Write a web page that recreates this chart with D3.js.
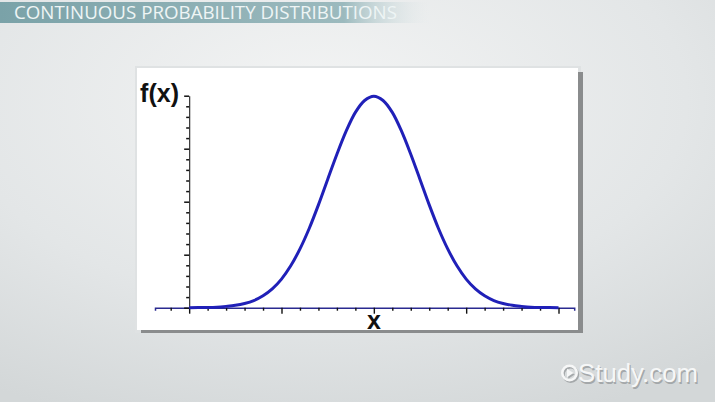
<!DOCTYPE html>
<html><head><meta charset="utf-8">
<script src="https://cdn.jsdelivr.net/npm/d3@7"></script>
<style>html,body{margin:0;padding:0;overflow:hidden;background:#e2e5e6}</style>
</head><body>
<svg id="c" width="715" height="402"></svg>
<script>
// Data
const xValues = [0,0.1,0.2,0.3,0.4,0.5,0.6,0.7,0.8,0.9,1.0,1.1,1.2,1.3,1.4,1.5,1.6,1.7,1.8,1.9,2.0,
  2.1,2.2,2.3,2.4,2.5,2.6,2.7,2.8,2.9,3.0,3.1,3.2,3.3,3.4,3.5,3.6,3.7,3.8,3.9,4.0];
const fValues = [0.000,0.001,0.001,0.002,0.005,0.009,0.016,0.027,0.045,0.071,0.108,0.158,0.222,0.299,0.388,0.484,0.579,0.666,0.737,0.782,0.798,
  0.782,0.737,0.666,0.579,0.484,0.388,0.299,0.222,0.158,0.108,0.071,0.045,0.027,0.016,0.009,0.005,0.002,0.001,0.001,0.000];
const xMajorTicks = [0,1,2,3,4];
const xMinorTicks = [-0.2,0.2,0.4,0.6,0.8,1.2,1.4,1.6,1.8,2.2,2.4,2.6,2.8,3.2,3.4,3.6,3.8];
const yMajorTicks = [0,0.2,0.4,0.6,0.8];
const yMinorTicks = [0.04,0.08,0.12,0.16,0.24,0.28,0.32,0.36,0.44,0.48,0.52,0.56,0.64,0.68,0.72,0.76];
const titleText = "CONTINUOUS PROBABILITY DISTRIBUTIONS";
const yLabel = "f(x)";
const xLabel = "x";
const brand = "Study.com";

const svg = d3.select("#c");
const defs = svg.append("defs");
const bg = defs.append("radialGradient").attr("id","bg").attr("cx","0.45").attr("cy","0.25").attr("r","0.85");
bg.append("stop").attr("offset","0").attr("stop-color","#f3f4f4");
bg.append("stop").attr("offset","0.6").attr("stop-color","#e3e6e7");
bg.append("stop").attr("offset","1").attr("stop-color","#d3d7d8");
svg.append("rect").attr("width",715).attr("height",402).attr("fill","url(#bg)");

const ban = defs.append("linearGradient").attr("id","ban");
ban.append("stop").attr("offset","0").attr("stop-color","#7aa2a8");
ban.append("stop").attr("offset","0.8").attr("stop-color","#9cbabe");
ban.append("stop").attr("offset","1").attr("stop-color","#dfe8e9").attr("stop-opacity","0");
svg.append("rect").attr("x",0).attr("y",2).attr("width",430).attr("height",21).attr("fill","url(#ban)");
svg.append("text").attr("x",14).attr("y",19).attr("font-family","Open Sans").attr("font-size",17.5)
  .attr("fill","#eef5f5").attr("textLength",383).attr("lengthAdjust","spacingAndGlyphs").text(titleText);

// panel
svg.append("rect").attr("x",135).attr("y",66).attr("width",446).attr("height",267).attr("fill","#dfe2e3");
svg.append("rect").attr("x",141).attr("y",72).attr("width",442).attr("height",261).attr("fill","#8a8c8d");
svg.append("rect").attr("x",137).attr("y",68).attr("width",441).attr("height",262).attr("fill","#ffffff");

const x = d3.scaleLinear().domain([-0.37,4.17]).range([155,574.2]);
const y = d3.scaleLinear().domain([0,0.8]).range([307.7,95.7]);

// x axis
const gx = svg.append("g").attr("transform","translate(0,307.7)");
gx.append("g").call(d3.axisBottom(x).tickValues(xMinorTicks).tickSize(3).tickFormat(""))
  .call(g=>g.select(".domain").attr("stroke","#2a2a90").attr("stroke-width",1.5))
  .call(g=>g.selectAll(".tick line").attr("stroke","#111").attr("stroke-width",1.4));
gx.append("g").call(d3.axisBottom(x).tickValues(xMajorTicks).tickSize(6).tickFormat(""))
  .call(g=>g.select(".domain").remove())
  .call(g=>g.selectAll(".tick line").attr("stroke","#111").attr("stroke-width",1.4));

// y axis
const gy = svg.append("g").attr("transform",`translate(${x(0)},0)`);
gy.append("g").call(d3.axisLeft(y).tickValues(yMinorTicks).tickSize(3).tickSizeOuter(0).tickFormat(""))
  .call(g=>g.select(".domain").attr("stroke","#333").attr("stroke-width",1.2))
  .call(g=>g.selectAll(".tick line").attr("stroke","#111").attr("stroke-width",1.5));
gy.append("g").call(d3.axisLeft(y).tickValues(yMajorTicks).tickSize(5).tickFormat(""))
  .call(g=>g.select(".domain").remove())
  .call(g=>g.selectAll(".tick line").attr("stroke","#111").attr("stroke-width",1.5));

// curve
const pts = xValues.map((v,i)=>[v,fValues[i]]);
svg.append("path").datum(pts)
  .attr("d", d3.line().x(d=>x(d[0])).y(d=>y(d[1])).curve(d3.curveCatmullRom))
  .attr("fill","none").attr("stroke","#2020b8").attr("stroke-width",3).attr("stroke-linejoin","round");

// labels
svg.append("text").attr("x",179).attr("y",102).attr("text-anchor","end")
  .attr("font-family","Liberation Sans").attr("font-weight","bold").attr("font-size",25).attr("fill","#111").text(yLabel);
svg.append("text").attr("x",x(2)).attr("y",329).attr("text-anchor","middle")
  .attr("font-family","Liberation Sans").attr("font-weight","bold").attr("font-size",25).attr("fill","#111").text(xLabel);

// watermark
const wm = svg.append("g");
const drawMark = (dx,dy,col)=>{
  const g = wm.append("g").attr("transform",`translate(${dx},${dy})`);
  g.append("circle").attr("cx",569.5).attr("cy",373).attr("r",7.2).attr("fill","none").attr("stroke",col).attr("stroke-width",2.6);
  g.append("path").attr("d","M567,368.8 L573.5,373 L567,377.2 Z").attr("fill",col);
  g.append("text").attr("x",578).attr("y",382).attr("font-family","Liberation Sans").attr("font-size",25)
    .attr("fill",col).attr("textLength",120).attr("lengthAdjust","spacingAndGlyphs").text(brand);
};
drawMark(1.2,1.5,"#a4a8aa");
drawMark(0,0,"#f6f7f7");
</script>
</body></html>
